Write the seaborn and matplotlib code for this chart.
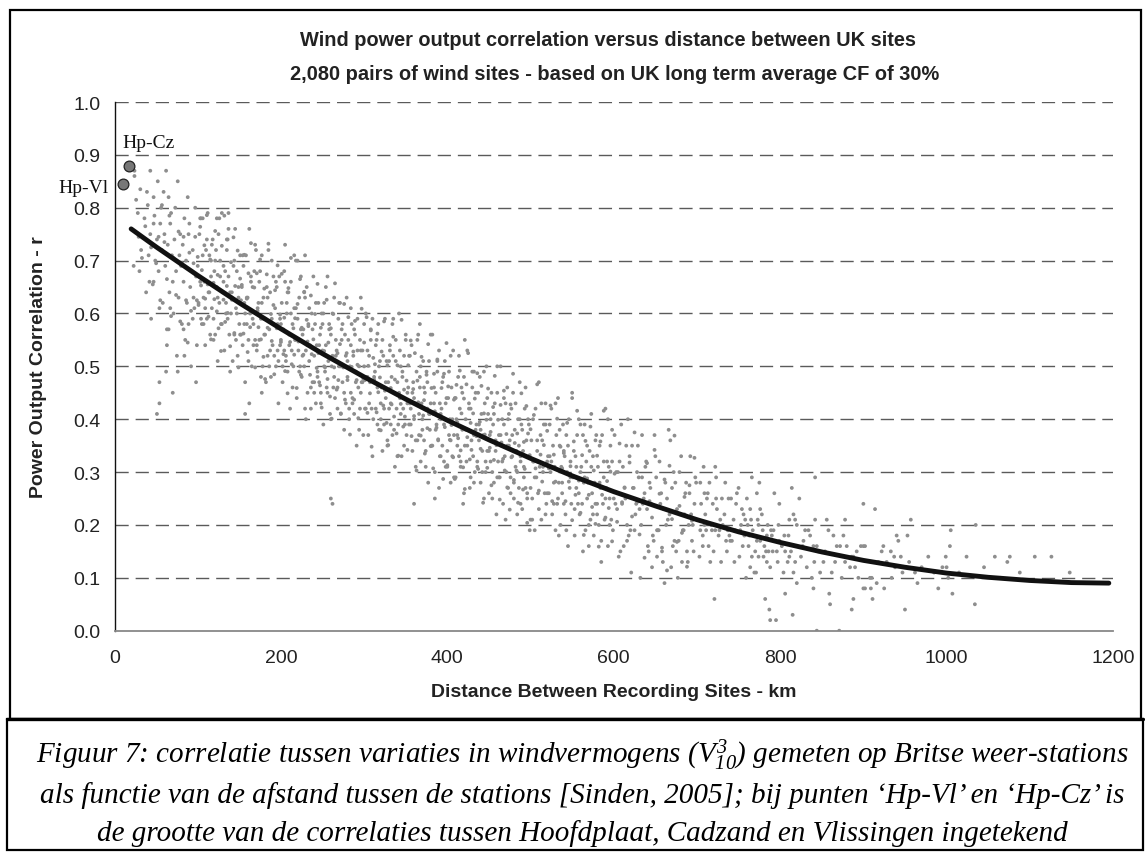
import matplotlib
matplotlib.use("Agg")
import matplotlib.pyplot as plt
import seaborn as sns
import pandas as pd
from matplotlib.patches import Rectangle
from matplotlib.lines import Line2D

# ---------------- data ----------------
# Scatter points, strings per 100-km band.
# Token "XXYY" : XX = km offset inside the band, YY  = correlation r in hundredths.
# Token "XXYYY": XX = km offset inside the band, YYY = correlation r in thousandths.
band_000_100 = ("2487 2486 4387 6287 7685 5285 3983 5983 4782 8882 6582 5680 7380 8478 3678 4777 6777 4375 7975 8975 "
                "2369 4266 4766 2879 3272 3068 3864 4171 4459 4970 5174 5368 5577 5772 5862 6075 6169 6357 6473 6664 "
                "6879 6971 7066 7160 7274 7468 7552 7763 7871 8069 8158 8273 8366 8555 8670 8762 9077 9165 9250 9368 "
                "9472 9459 9563 9661 9780 9867 9954 7045 6249 8452 5447 5461 6557 6761 8357 8958 6354 5443 5141 7649 9847")
band_000_100_b = ("26815 29745 31835 33705 37765 40805 44725 46655 48785 50695 53745 55625 57805 60735 63665 66785 "
                  "68595 71705 74635 77755 79585 81695 83745 86625 88545 90715 92605 95695 97745 99625")
band_100_200 = ("0069 0162 0275 0366 0478 0558 0671 0763 0866 0954 1072 1159 1279 1364 1471 1556 1667 1761 1874 1959 "
                "2068 2156 2272 2365 2451 2575 2662 2767 2858 2979 3064 3169 3253 3368 3462 3572 3659 3776 3856 3964 "
                "4060 4163 4251 4369 4456 4576 4661 4768 4852 4963 5058 5171 5256 5365 5454 5569 5662 5747 5871 5958 "
                "6063 6155 6276 6360 6466 6550 6665 6758 6868 6955 7072 7153 7261 7362 7455 7568 7659 7771 7850 7963 "
                "8056 8159 8247 8365 8452 8572 8657 8764 8848 8959 9054 9167 9252 9361 9450 9565 9658 9743 9867 9954 "
                "0167 0459 0678 0961 1174 1464 1670 1955 2170 2463 2678 2958 3166 3460 3674 3949 4164 4470 4655 4965 "
                "5156 5471 5658 5963 6151 6467 6659 6973 7154 7466 7648 7959 8156 8463 8650 8970 9158 9466 9653 9959 "
                "0378 3779 2378 3574 5741 6243 7745")
band_100_200_b = ("00707 01616 03764 04653 05682 07580 08729 09628 11786 12655 13594 15702 16551 17730 19658 20627 "
                  "21756 23604 24673 25572 27700 28529 29728 31626 32785 33584 35652 36601 37670 39538 40697 41626 "
                  "43744 44563 45652 47600 48719 49498 51666 52625 53654 55562 56711 57600 59628 60527 61676 63574 "
                  "64733 65602 67540 68649 69498 71676 72605 73574 75702 76551 77620 79518 80647 81476 83674 84573 "
                  "85732 87530 88599 89548 91616 92485 93644 95572 96691 97510 99598")
band_200_300 = ("0055 0162 0247 0357 0453 0566 0651 0760 0849 0964 1056 1142 1266 1353 1458 1550 1671 1755 1861 1944 "
                "2059 2153 2263 2350 2467 2548 2656 2757 2850 2963 3053 3165 3245 3358 3451 3554 3642 3760 3847 3967 "
                "4052 4158 4243 4354 4449 4562 4647 4756 4845 4960 5053 5139 5262 5349 5454 5546 5667 5751 5857 5941 "
                "6056 6150 6260 6346 6463 6544 6652 6753 6846 6959 7050 7162 7241 7355 7447 7550 7638 7756 7843 7963 "
                "8048 8155 8240 8350 8445 8558 8643 8752 8841 8956 9049 9135 9259 9346 9450 9542 9663 9747 9853 9937 "
                "0058 0250 0468 0652 0864 1054 1260 1446 1661 1855 2070 2249 2457 2652 2864 3040 3254 3461 3646 3857 "
                "4047 4262 4448 4654 4843 5058 5250 5465 5645 5858 6040 6252 6448 6655 6842 7062 7250 7458 7645 7852 "
                "8051 8242 8461 8644 8857 9047 9253 9438 9653 9847 6025 6224 0573 1870 2971")
band_200_300_b = ("00546 01675 03523 04592 05491 07620 08449 09648 11546 12705 13504 15572 16522 17591 19459 20618 "
                  "21547 23665 24484 25573 27522 28641 29420 31588 32547 33576 35484 36634 37523 39551 40450 41599 "
                  "43497 44656 45525 47464 48573 49422 51600 52529 53498 55626 56476 57545 59443 60572 61401 63599 "
                  "64498 65657 67456 68525 69474 71542 72411 73570 75498 76618 77437 79525 80474 81593 83371 84540 "
                  "85499 87528 88437 89586 91474 92503 93402 95550 96450 97609 99477")
band_300_400 = ("0050 0142 0260 0348 0453 0537 0652 0747 0855 0942 1059 1140 1248 1349 1442 1555 1646 1758 1838 1951 "
                "2043 2146 2234 2352 2439 2559 2644 2751 2836 2947 3042 3154 3239 3348 3437 3552 3645 3731 3855 3942 "
                "4047 4139 4260 4344 4450 4533 4648 4742 4852 4939 5056 5137 5245 5346 5439 5552 5642 5754 5834 5947 "
                "6040 6143 6231 6349 6436 6556 6641 6748 6832 6943 7038 7151 7236 7345 7434 7549 7642 7728 7851 7938 "
                "8043 8135 8256 8341 8446 8530 8645 8739 8849 8936 9053 9133 9241 9342 9435 9548 9639 9751 9831 9944 "
                "0058 0242 0448 0643 0857 1033 1247 1454 1639 1850 2040 2255 2442 2647 2835 3051 3243 3458 3638 3851 "
                "4033 4245 4441 4649 4835 5055 5243 5452 5639 5845 6044 6236 6455 6637 6850 7040 7246 7431 7647 7841 "
                "8056 8235 8443 8638 8851 9027 9240 9447 9632 9843 3559 6758 6024 8525")
band_300_400_b = ("00545 01474 03593 04412 05501 07449 08568 09348 11516 12475 13504 15413 16562 17451 19479 20379 "
                  "21528 23426 24585 25454 27393 28502 29351 31530 32459 33428 35556 36405 37475 39373 40502 41331 "
                  "43530 44429 45588 47386 48456 49405 51473 52342 53502 55430 56549 57368 59457 60406 61525 63303 "
                  "64473 65432 67460 68369 69518 71407 72436 73335 75484 76383 77542 79410 80349 81459 83307 84486 "
                  "85415 87384 88513 89362 91430 92330 93459 95287 96486 97385 99544")
band_400_500 = ("0031 0144 0237 0340 0428 0546 0633 0753 0837 0944 1029 1140 1235 1348 1433 1542 1631 1746 1838 1924 "
                "2048 2135 2240 2332 2453 2538 2643 2727 2842 2936 3046 3133 3249 3330 3438 3539 3632 3745 3836 3948 "
                "4028 4141 4234 4337 4425 4543 4630 4750 4834 4941 5026 5137 5232 5345 5430 5539 5628 5743 5836 5922 "
                "6045 6132 6237 6329 6450 6535 6640 6724 6839 6933 7043 7130 7246 7327 7435 7536 7629 7742 7833 7945 "
                "8025 8138 8231 8334 8422 8540 8627 8747 8832 8939 9023 9134 9229 9342 9427 9536 9625 9740 9833 9919 "
                "0034 0249 0436 0640 0829 1044 1237 1452 1632 1845 2026 2238 2435 2642 2829 3049 3237 3445 3631 3839 "
                "4038 4230 4449 4632 4844 5034 5240 5425 5641 5834 6050 6229 6437 6632 6844 7021 7235 7441 7626 7837 "
                "8028 8243 8430 8635 8824 9038 9231 9446 9626 9839 2155")
band_400_500_b = ("00313 01462 03361 04520 05389 07328 08437 09287 11465 12394 13364 15492 16341 17411 19309 20439 "
                  "21268 23466 24366 25525 27324 28393 29342 31411 32280 33439 35368 36487 37306 39395 40344 41463 "
                  "43242 44411 45371 47399 48308 49458 51346 52376 53275 55423 56323 57482 59351 60290 61399 63248 "
                  "64427 65356 67325 68454 69303 71372 72271 73400 75229 76428 77328 79486 80285 81355 83303 84373 "
                  "85242 87400 88330 89449 91267 92357 93306 95425 96204 97373 99332")
band_500_600 = ("0027 0136 0225 0340 0432 0519 0642 0729 0834 0926 1047 1131 1237 1321 1436 1530 1639 1726 1843 1924 "
                "2032 2133 2226 2339 2430 2542 2622 2735 2828 2931 3019 3137 3224 3344 3428 3535 3620 3731 3826 3939 "
                "4024 4133 4222 4337 4430 4516 4640 4727 4832 4924 5044 5129 5234 5318 5433 5527 5637 5724 5840 5922 "
                "6030 6131 6224 6337 6428 6539 6619 6732 6825 6928 7016 7134 7221 7341 7426 7533 7618 7728 7824 7937 "
                "8022 8131 8220 8335 8427 8513 8637 8724 8829 8921 9042 9127 9232 9316 9431 9525 9635 9721 9838 9919 "
                "0021 0332 0529 0836 1023 1343 1531 1839 2026 2333 2532 2824 3043 3325 3538 3828 4034 4319 4535 4829 "
                "5045 5323 5531 5826 6039 6315 6529 6835 7020 7331 7522 7836 8024 8328 8517 8832 9025 9340 9520 9832")
band_500_600_b = ("00381 02210 04408 06307 08466 10265 12333 14282 16351 18220 20378 22307 24426 26245 28333 30282 "
                  "32401 34180 36348 38307 40336 42245 44393 46282 48311 50209 52358 54257 56416 58284 60223 62332 "
                  "64181 66359 68288 70257 72386 74234 76303 78202 80331 82159 84358 86257 88416 90214 92283 94232 "
                  "96301 98169")
band_600_700 = ("0025 0137 0330 0423 0614 0732 0939 1024 1216 1327 1535 1620 1818 1933 2111 2235 2427 2519 2724 2830 "
                "3029 3123 3320 3437 3625 3726 3932 4023 4215 4328 4524 4612 4817 4937 5129 5214 5419 5532 5726 5815 "
                "6023 6109 6320 6425 6638 6722 6912 7027 7230 7317 7515 7623 7817 7930 8133 8213 8419 8522 8728 8815 "
                "9020 9126 9322 9417 9615 9724 9928 "
                "0224 0530 0815 1131 1425 1740 2019 2327 2622 2935 3210 3524 3831 4116 4427 4718 5033 5319 5624 5913 "
                "6228 6521 6836 7116 7428 7710 8022 8319 8626 8913 9233 9520 9829")
band_600_700_b = ("01297 04206 07354 10243 13271 16170 19318 22216 25375 28243 31182 34290 37138 40317 43245 46214 "
                  "49342 52190 55259 58157 61286 64114 67312 70211 73369 76168 79236 82185 85253 88121 91275 94208 97327")
band_700_800 = ("0831 2231 0428 2329 0926 1326 1225 2325 3025 3825 4125 5027 6629 7528 7226 6025 4724 5423 5622 5821 "
                "6423 7623 7822 9326 9924 0419 0718 0920 1416 1819 2219 2719 3517 4017 4217 5516 6614 6911 6412 7414 "
                "8014 8413 8812 7217 7617 7420 8418 9018 9219 9917 9713 2106 8206 8704 8802 9502 "
                "0021 0314 0524 0716 1022 1119 1528 1613 1720 1924 2015 2423 2618 2821 2913 3120 3322 3428 3615 3719 "
                "3918 4421 4513 4619 4826 5114 5219 5320 5718 5910 6120 6216 6318 6521 6719 7015 7111 7321 7919 8116 "
                "8315 8520 8615 8919 9115 9615 9820")
band_800_900 = ("0518 1018 0216 0615 0411 1813 1611 1114 2009 2817 3419 3618 3019 4016 4416 4008 4113 4615 5819 6418 "
                "6816 7618 7216 8016 8614 7813 8814 9410 1427 2325 1622 1821 1121 2020 4229 4221 5621 7821 0607 1503 "
                "5907 6005 8604 8806 4400 7100 2514 3212 4811 5213 5415 6211 6613 7410 8412 9012 9215 9716 0913 1315 "
                "2716 3810")
band_900_1000 = ("0024 1423 5721 0016 0216 0810 1010 0008 0908 1106 1609 2508 2416 2215 3315 3714 3812 4711 3410 4018 "
                 "4217 5318 6211 6509 7012 9008 5004 0208 1813 2813 4514 5513 7814 8511 9512 9914")
band_1000_1100 = "0210 0012 0416 0519 0707 2414 3520 3405 5814 7313 7614 1511 4512 6510 8811"
band_1100_1200 = "0614 2614 4811"

# Trend line (as drawn in the chart)
trend_km = [20, 50, 100, 150, 200, 250, 300, 350, 400, 450, 500, 550, 600,
            650, 700, 750, 800, 850, 900, 950, 1000, 1050, 1100, 1150, 1195]
trend_r = [0.760, 0.726, 0.672, 0.620, 0.571, 0.524, 0.480, 0.438, 0.398, 0.361, 0.326, 0.293, 0.263,
           0.236, 0.210, 0.187, 0.167, 0.149, 0.133, 0.120, 0.109, 0.101, 0.095, 0.091, 0.090]

# Highlighted Dutch station pairs
pair_labels = ["Hp-Vl", "Hp-Cz"]
pair_km = [10, 17]
pair_r = [0.844, 0.879]

x_ticks = [0, 200, 400, 600, 800, 1000, 1200]
y_ticks = [0.0, 0.1, 0.2, 0.3, 0.4, 0.5, 0.6, 0.7, 0.8, 0.9, 1.0]

title_1 = "Wind power output correlation versus distance between UK sites"
title_2 = "2,080 pairs of wind sites - based on UK long term average CF of 30%"
x_label = "Distance Between Recording Sites - km"
y_label = "Power Output Correlation - r"
caption_lines = [
    "Figuur 7: correlatie tussen variaties in windvermogens ($V_{10}^{3}$) gemeten op Britse weer-stations",
    "als functie van de afstand tussen de stations [Sinden, 2005]; bij punten \u2018Hp-Vl\u2019 en \u2018Hp-Cz\u2019 is",
    "de grootte van de correlaties tussen Hoofdplaat, Cadzand en Vlissingen ingetekend",
]

# ---------------- build table ----------------
bands = [(0, band_000_100), (0, band_000_100_b), (100, band_100_200), (100, band_100_200_b),
         (200, band_200_300), (200, band_200_300_b), (300, band_300_400), (300, band_300_400_b),
         (400, band_400_500), (400, band_400_500_b), (500, band_500_600), (500, band_500_600_b),
         (600, band_600_700), (600, band_600_700_b), (700, band_700_800), (800, band_800_900),
         (900, band_900_1000), (1000, band_1000_1100), (1100, band_1100_1200)]
rows = []
for start, s in bands:
    for tok in s.split():
        rows.append((start + int(tok[:2]), int(tok[2:]) / 10 ** (len(tok) - 2)))
df = pd.DataFrame(rows, columns=["km", "r"])
trend = pd.DataFrame({"km": trend_km, "r": trend_r})
pairs = pd.DataFrame({"km": pair_km, "r": pair_r, "label": pair_labels})

# ---------------- style ----------------
sns.set_theme(style="white")
plt.rcParams["font.family"] = ["Liberation Sans", "DejaVu Sans"]
plt.rcParams["mathtext.fontset"] = "custom"
plt.rcParams["mathtext.rm"] = "Liberation Serif:italic"
plt.rcParams["mathtext.it"] = "Liberation Serif:italic"

W, H = 1145, 854
fig = plt.figure(figsize=(W / 100, H / 100), dpi=100)
fig.patch.set_facecolor("white")

ax_left, ax_right = 114.5, 1113.0
ax_top, ax_bottom = 103.0, 631.7
ax = fig.add_axes([ax_left / W, 1 - ax_bottom / H, (ax_right - ax_left) / W, (ax_bottom - ax_top) / H])
ax.set_facecolor("white")

for yv in y_ticks[1:]:
    ax.axhline(yv, color="#5a5a5a", lw=1.0, ls=(0, (9.5, 5)), zorder=1)

sns.scatterplot(data=df, x="km", y="r", s=7.5, color="#8e8e8e", edgecolor="none",
                linewidth=0, ax=ax, zorder=2, legend=False)
sns.lineplot(data=trend, x="km", y="r", color="#111111", lw=3.5, ax=ax, zorder=3,
             estimator=None, sort=True)
sns.scatterplot(data=pairs, x="km", y="r", s=60, color="#777777", edgecolor="#222222",
                linewidth=0.9, ax=ax, zorder=4, legend=False, clip_on=False)

ax.text(9, 0.915, "Hp-Cz", family="Liberation Serif", fontsize=14, ha="left", va="baseline",
        color="#111111", clip_on=False)
ax.text(-7.5, 0.830, "Hp-Vl", family="Liberation Serif", fontsize=14, ha="right", va="baseline",
        color="#111111", clip_on=False)

ax.set_xlim(0, 1200)
ax.set_ylim(0, 1.0)
ax.set_xticks(x_ticks)
ax.set_yticks(y_ticks)
ax.set_xticklabels([str(v) for v in x_ticks])
ax.set_yticklabels([f"{v:.1f}" for v in y_ticks])
ax.tick_params(axis="x", direction="in", length=6, width=1, color="#333333", pad=13,
               labelsize=14, labelcolor="#222222")
ax.tick_params(axis="y", direction="in", length=5, width=1, color="#333333", pad=10,
               labelsize=14, labelcolor="#222222")
ax.set_xlabel("")
ax.set_ylabel("")
for side in ["top", "right"]:
    ax.spines[side].set_visible(False)
ax.spines["left"].set_color("#111111")
ax.spines["left"].set_linewidth(1.0)
ax.spines["bottom"].set_color("#888888")
ax.spines["bottom"].set_linewidth(1.3)

# titles and labels
fig.text(608 / W, 1 - 40 / H, title_1, ha="center", va="center", fontsize=14.4, weight="bold", color="#222222")
fig.text(615 / W, 1 - 75 / H, title_2, ha="center", va="center", fontsize=14.4, weight="bold", color="#222222")
fig.text((ax_left + ax_right) / 2 / W, 1 - 693 / H, x_label, ha="center", va="center",
         fontsize=14, weight="bold", color="#222222")
fig.text(39 / W, 1 - (ax_top + ax_bottom) / 2 / H, y_label, ha="center", va="center",
         rotation=90, fontsize=14, weight="bold", color="#222222")

# frames
fig.add_artist(Rectangle((9.5 / W, 1 - 720 / H), (1141 - 9.5) / W, (720 - 11) / H,
                         transform=fig.transFigure, fill=False, lw=1.6, ec="black"))
fig.add_artist(Rectangle((7 / W, 1 - 851 / H), (1143 - 7) / W, (851 - 720) / H,
                         transform=fig.transFigure, fill=False, lw=1.6, ec="black"))
fig.add_artist(Line2D([7 / W, 1143 / W], [1 - 720 / H, 1 - 720 / H], transform=fig.transFigure,
                      lw=2.4, color="black"))

# caption
cap_y = [755, 796, 834]
for line, yy in zip(caption_lines, cap_y):
    fig.text(582 / W, 1 - yy / H, line, ha="center", va="center", fontsize=21,
             family="Liberation Serif", style="italic", color="black")

fig.savefig("out.png", dpi=100, facecolor="white")
